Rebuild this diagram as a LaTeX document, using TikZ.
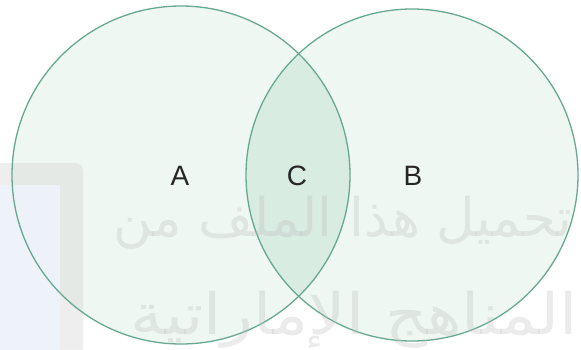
\documentclass[tikz,border=0pt]{standalone}
\usepackage{fontspec}
\setmainfont{Liberation Sans}
\newfontfamily\arabicfont[Script=Arabic]{DejaVu Sans}
\TeXXeTstate=1
\definecolor{ringc}{HTML}{68A893}
\definecolor{fillc}{HTML}{EEF7F1}
\definecolor{lensc}{HTML}{D8ECE2}
\definecolor{labc}{HTML}{262626}
\definecolor{logog}{HTML}{D6D6D6}
\definecolor{logob}{HTML}{EEF3FB}
\definecolor{wmc}{HTML}{BDBDBD}
\tikzset{
  ring/.style={draw=ringc, line width=1.3pt},
  setlabel/.style={font=\fontsize{28}{28}\selectfont, text=labc, inner sep=0pt},
  wmark/.style={text=wmc, text opacity=0.3, inner sep=0pt}
}
\begin{document}
\begin{tikzpicture}[x=1pt,y=-1pt]
\useasboundingbox (0,0) rectangle (581,349);
\clip (0,0) rectangle (581,349);
\fill[white] (0,0) rectangle (581,349);
% circles
\coordinate (ca) at (181,175);
\coordinate (cb) at (412,175);
\fill[fillc] (ca) circle[radius=169];
\fill[fillc] (cb) circle[radius=166];
\begin{scope}
  \clip (ca) circle[radius=169];
  \fill[lensc] (cb) circle[radius=166];
\end{scope}
% watermark logo
\fill[logog, opacity=0.4, rounded corners=8pt] (-20,163) rectangle (83,380);
\fill[logob, opacity=0.9] (-20,185) rectangle (60,380);
\draw[ring] (ca) circle[radius=169];
\draw[ring] (cb) circle[radius=166];
% watermark text
\node[wmark, font=\arabicfont\fontsize{53}{53}\selectfont, anchor=base west] (w1) at (113,236) {\beginR تحميل هذا الملف من\endR};
\node[wmark, font=\arabicfont\fontsize{57}{57}\selectfont, xscale=1.15, anchor=base east] (w2) at (578,334) {\beginR المناهج الإماراتية\endR};
% labels
\node[setlabel] (A) at (180,176) {A};
\node[setlabel] (C) at (297,176) {C};
\node[setlabel] (B) at (413,176) {B};
\end{tikzpicture}
\end{document}
